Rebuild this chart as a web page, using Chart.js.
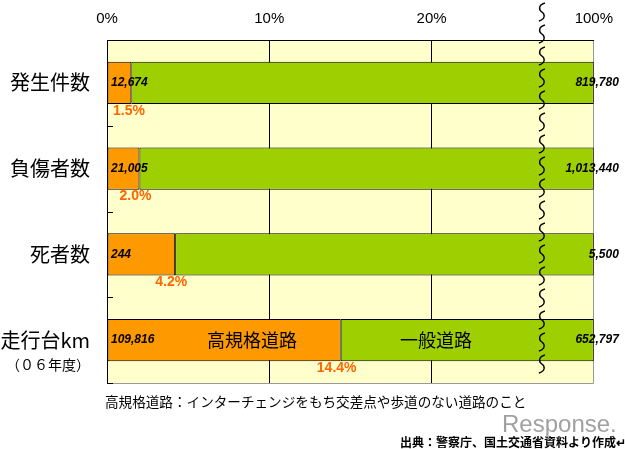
<!DOCTYPE html>
<html><head><meta charset="utf-8">
<script src="https://cdn.jsdelivr.net/npm/chart.js@4"></script>
<style>html,body{margin:0;padding:0;background:#fff}canvas{display:block}</style>
</head><body>
<canvas id="c" width="625" height="449"></canvas>
<script>
// ---- data ----
const categories = ['発生件数', '負傷者数', '死者数', '走行台km'];
const highSpecCounts = [12674, 21005, 244, 109816];      // 高規格道路
const generalCounts = [819780, 1013440, 5500, 652797];   // 一般道路
const highSpecShare = [1.5, 2.0, 4.2, 14.4];              // %
const shareLabels = ['1.5%', '2.0%', '4.2%', '14.4%'];
const xTickValues = [0, 10, 20, 30];
const xTickLabels = ['0%', '10%', '20%', '100%'];
const segmentNames = ['高規格道路', '一般道路'];
const subLabel = '（０６年度）';
const footnote = '高規格道路：インターチェンジをもち交差点や歩道のない道路のこと';
const sourceText = '出典：警察庁、国土交通省資料より作成↵';

// broken axis: 0..BREAK is linear, BREAK..100 compressed into BREAK..AXIS_MAX
const BREAK = 26.8, AXIS_MAX = 30;
function toAxis(v) { return v <= BREAK ? v : BREAK + (v - BREAK) * (AXIS_MAX - BREAK) / (100 - BREAK); }

const fmt = n => n.toLocaleString('en-US');
const JP = '"Noto Sans CJK JP", sans-serif';

const decor = {
  id: 'decor',
  beforeDraw(chart) {
    const { ctx, chartArea: a } = chart;
    ctx.save();
    ctx.fillStyle = '#FFFFCC';
    ctx.fillRect(a.left, a.top, a.right - a.left, a.bottom - a.top);
    ctx.restore();
  },
  afterDatasetsDraw(chart) {
    const { ctx, chartArea: a, scales: { x, y } } = chart;
    ctx.save();
    // bottom border
    ctx.strokeStyle = '#999';
    ctx.lineWidth = 1;
    ctx.beginPath(); ctx.moveTo(a.left, a.bottom + 0.5); ctx.lineTo(a.right, a.bottom + 0.5); ctx.stroke();
    // inner ticks at category boundaries
    ctx.strokeStyle = '#000';
    for (let i = 0; i < categories.length; i++) {
      const yy = i < categories.length - 1
        ? (y.getPixelForValue(i) + y.getPixelForValue(i + 1)) / 2
        : a.bottom;
      ctx.beginPath(); ctx.moveTo(a.left, Math.round(yy) + 0.5); ctx.lineTo(a.left + 6, Math.round(yy) + 0.5); ctx.stroke();
    }
    // break squiggles
    const bx = x.getPixelForValue(BREAK);
    ctx.lineWidth = 1.4;
    for (let y0 = 3; y0 < a.bottom - 8; y0 += 22) {
      ctx.beginPath();
      ctx.moveTo(bx + 3, y0);
      ctx.bezierCurveTo(bx - 4, y0 + 2, bx - 3, y0 + 7, bx, y0 + 9);
      ctx.bezierCurveTo(bx + 3, y0 + 11, bx + 4, y0 + 16, bx - 3, y0 + 18);
      ctx.stroke();
    }
    // labels on bars
    const meta = chart.getDatasetMeta(0);
    ctx.fillStyle = '#000';
    ctx.font = 'italic bold 12px "Liberation Sans", sans-serif';
    ctx.textBaseline = 'middle';
    categories.forEach((c, i) => {
      const bar = meta.data[i];
      ctx.textAlign = 'left';
      ctx.fillText(fmt(highSpecCounts[i]), a.left + 4, bar.y);
      ctx.textAlign = 'right';
      ctx.fillText(fmt(generalCounts[i]), a.right + 25, bar.y);
    });
    // share labels
    ctx.fillStyle = '#FF6600';
    ctx.font = 'bold 14px "Liberation Sans", sans-serif';
    ctx.textAlign = 'center';
    categories.forEach((c, i) => {
      const bar = meta.data[i];
      const px = Math.max(x.getPixelForValue(toAxis(highSpecShare[i])) - 4, a.left + 22);
      ctx.fillText(shareLabels[i], px, bar.y + bar.height / 2 + 7);
    });
    // segment names inside last bar
    const last = meta.data[categories.length - 1];
    ctx.fillStyle = '#000';
    ctx.font = '18px ' + JP;
    ctx.fillText(segmentNames[0], 252, last.y);
    ctx.fillText(segmentNames[1], 436, last.y);
    ctx.restore();
  },
  afterDraw(chart) {
    const { ctx, scales: { y } } = chart;
    ctx.save();
    ctx.fillStyle = '#000';
    ctx.textBaseline = 'middle';
    ctx.textAlign = 'center';
    ctx.font = '14px ' + JP;
    ctx.fillText(subLabel, 48, y.getPixelForValue(categories.length - 1) + 25);
    ctx.textAlign = 'left';
    ctx.font = '13.6px ' + JP;
    ctx.fillText(footnote, 105, 402);
    ctx.font = 'bold 12px ' + JP;
    ctx.fillText(sourceText, 400, 442);
    ctx.fillStyle = '#A0A0A0';
    ctx.font = '24px "Liberation Sans", sans-serif';
    ctx.textBaseline = 'alphabetic';
    ctx.fillText('Response.', 502, 432);
    ctx.restore();
  }
};

new Chart(document.getElementById('c'), {
  type: 'bar',
  data: {
    labels: categories,
    datasets: [
      {
        label: segmentNames[0],
        data: highSpecShare.map(v => [0, toAxis(v)]),
        backgroundColor: '#FF9900',
        borderColor: '#000',
        borderWidth: 1,
        borderSkipped: false,
        grouped: false,
        categoryPercentage: 1,
        barPercentage: 0.49
      },
      {
        label: segmentNames[1],
        data: highSpecShare.map(v => [toAxis(v), toAxis(100)]),
        backgroundColor: '#9ECF00',
        borderColor: '#000',
        borderWidth: 1,
        borderSkipped: false,
        grouped: false,
        categoryPercentage: 1,
        barPercentage: 0.49
      }
    ]
  },
  options: {
    indexAxis: 'y',
    responsive: false,
    animation: false,
    layout: { padding: { top: 0, left: 0, right: 30, bottom: 66 } },
    plugins: { legend: { display: false }, tooltip: { enabled: false } },
    scales: {
      x: {
        position: 'top',
        min: 0, max: AXIS_MAX,
        afterBuildTicks: s => { s.ticks = xTickValues.map(v => ({ value: v })); },
        afterFit: s => { s.height = 40; },
        ticks: {
          callback: (v) => xTickLabels[xTickValues.indexOf(v)],
          color: '#000',
          font: { family: '"Liberation Sans", sans-serif', size: 15 },
          padding: 12,
          maxRotation: 0
        },
        grid: {
          color: ctx => (ctx.tick && ctx.tick.value === AXIS_MAX) ? '#999' : '#000',
          drawTicks: false,
          lineWidth: 1
        },
        border: { display: true, color: '#000' }
      },
      y: {
        afterFit: s => { s.width = 107; },
        ticks: {
          color: '#000',
          font: { family: JP, size: 20 },
          padding: 17
        },
        grid: { display: false, drawTicks: false },
        border: { display: true, color: '#000' }
      }
    }
  },
  plugins: [decor]
});
</script>
</body></html>
